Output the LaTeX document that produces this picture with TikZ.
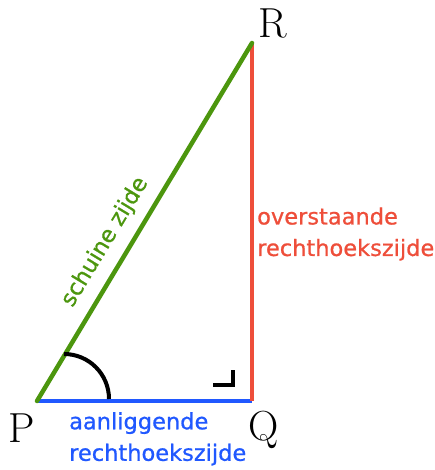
\documentclass[tikz,border=0pt]{standalone}
\usepackage{fontspec}
\newfontfamily\comic[FakeBold=0.8]{DejaVu Sans}
\definecolor{hypgreen}{RGB}{76,150,14}
\definecolor{oppred}{RGB}{238,78,58}
\definecolor{adjblue}{RGB}{32,88,255}
\begin{document}
\begin{tikzpicture}[x=1pt,y=1pt,
  side/.style={line width=4.5pt},
  vertex/.style={font=\fontsize{42}{44}\selectfont,inner sep=0pt},
  lbl/.style={font=\comic\fontsize{22.5}{31.5}\selectfont,align=left,inner sep=0pt}]
\useasboundingbox (0,0) rectangle (435,470);
\coordinate (P) at (37,69);
\coordinate (Q) at (252,69);
\coordinate (R) at (252,427);
\draw[side,adjblue] (P) -- (Q);
\draw[side,oppred] (Q) -- (R);
\draw[side,hypgreen,line cap=round] (P) -- (R);
\draw[line width=4pt,black] (64,116) arc[start angle=90,end angle=0,radius=45];
\draw[line width=4pt,black] (213,85) -- (233,85) -- (233,100);
\node[vertex] (p) at (22,42) {P};
\node[vertex] (q) at (264,40) {Q};
\node[vertex] (r) at (273,446) {R};
\node[lbl,text=adjblue,anchor=north west] (adj) at (69,58) {aanliggende\\rechthoekszijde};
\node[lbl,text=oppred,anchor=west] (opp) at (257,236) {overstaande\\rechthoekszijde};
\node[lbl,text=hypgreen,rotate=58.9] (hyp) at (105,228) {schuine zijde};
\end{tikzpicture}
\end{document}
